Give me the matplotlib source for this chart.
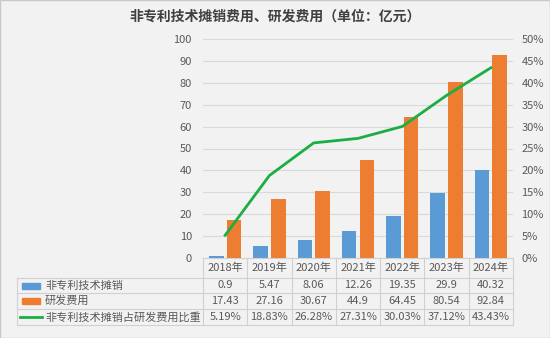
import matplotlib.pyplot as plt
from matplotlib.patches import Rectangle
from matplotlib.lines import Line2D
import matplotlib.transforms as mtransforms

plt.rcParams['font.family'] = ['Noto Sans CJK SC', 'DejaVu Sans']

# 数据
years = ['2018年', '2019年', '2020年', '2021年', '2022年', '2023年', '2024年']
amort = [0.9, 5.47, 8.06, 12.26, 19.35, 29.9, 40.32]
rd = [17.43, 27.16, 30.67, 44.9, 64.45, 80.54, 92.84]
ratio = [5.19, 18.83, 26.28, 27.31, 30.03, 37.12, 43.43]
amort_txt = ['0.9', '5.47', '8.06', '12.26', '19.35', '29.9', '40.32']
rd_txt = ['17.43', '27.16', '30.67', '44.9', '64.45', '80.54', '92.84']
ratio_txt = ['5.19%', '18.83%', '26.28%', '27.31%', '30.03%', '37.12%', '43.43%']
series_names = ['非专利技术摊销', '研发费用', '非专利技术摊销占研发费用比重']

blue = '#5b9bd5'
orange = '#ed7d31'
green = '#1aae43'
bg = '#f2f2f2'
txt = '#595959'
gridc = '#d9d9d9'
W, H = 550, 338

fig = plt.figure(figsize=(5.5, 3.38), dpi=100, facecolor=bg)
ax = fig.add_axes([203 / W, 1 - 258 / H, 310 / W, 219 / H])
ax.set_facecolor(bg)

x = list(range(len(years)))
bw = 0.33
ax.bar([i - bw / 2 - 0.035 for i in x], amort, width=bw, color=blue, zorder=3)
ax.bar([i + bw / 2 + 0.035 for i in x], rd, width=bw, color=orange, zorder=3)

ax.set_xlim(-0.5, len(years) - 0.5)
ax.set_ylim(0, 100)
ax.set_yticks(range(0, 101, 10))
ax.set_xticks([])
ax.tick_params(axis='y', length=0, labelsize=8, labelcolor=txt, pad=8)
ax.grid(axis='y', color=gridc, linewidth=0.8, zorder=0)
for s in ax.spines.values():
    s.set_visible(False)

ax2 = ax.twinx()
ax2.plot(x, ratio, color=green, linewidth=2, zorder=4)
ax2.set_ylim(0, 50)
ax2.set_yticks(range(0, 51, 5))
ax2.set_yticklabels([f'{v}%' for v in range(0, 51, 5)])
ax2.tick_params(axis='y', length=0, labelsize=8, labelcolor=txt, pad=6)
for s in ax2.spines.values():
    s.set_visible(False)

fig.text(275 / W, 1 - 17 / H, '非专利技术摊销费用、研发费用（单位：亿元）',
         ha='center', va='center', fontsize=10, fontweight='bold', color='#404040')

# 数据表
tx = mtransforms.blended_transform_factory(ax.transData, fig.transFigure)
ff = fig.transFigure
linec = '#d0d0d0'
rows_y = [258, 278, 293, 309, 325]


def fy(py):
    return 1 - py / H


left_px = 17
# 横线
fig.add_artist(Line2D([-0.5, len(years) - 0.5], [fy(258)] * 2, transform=tx, color=linec, lw=0.8))
for py in rows_y[1:]:
    fig.add_artist(Line2D([left_px / W, 513 / W], [fy(py)] * 2, transform=ff, color=linec, lw=0.8))
# 竖线
for i in range(len(years) + 1):
    fig.add_artist(Line2D([i - 0.5] * 2, [fy(258), fy(325)], transform=tx, color=linec, lw=0.8))
fig.add_artist(Line2D([left_px / W] * 2, [fy(278), fy(325)], transform=ff, color=linec, lw=0.8))

# 表头与数值
for i, yr in enumerate(years):
    fig.text(i, fy(268), yr, transform=tx, ha='center', va='center', fontsize=8, color=txt)
    for r, vals in enumerate([amort_txt, rd_txt, ratio_txt]):
        yc = (rows_y[r + 1] + rows_y[r + 2]) / 2
        fig.text(i, fy(yc), vals[i], transform=tx, ha='center', va='center', fontsize=8, color=txt)

# 图例列
for r, name in enumerate(series_names):
    yc = (rows_y[r + 1] + rows_y[r + 2]) / 2
    if r < 2:
        fig.add_artist(Rectangle((22 / W, fy(yc + 3)), 18 / W, 6 / H, transform=ff,
                                 color=[blue, orange][r]))
        tx0 = 45
    else:
        fig.add_artist(Line2D([20 / W, 42 / W], [fy(yc)] * 2, transform=ff, color=green, lw=2))
        tx0 = 45
    fig.text(tx0 / W, fy(yc), name, ha='left', va='center', fontsize=8, color=txt)

fig.add_artist(Rectangle((0, 0), 1, 1, transform=ff, fill=False, edgecolor='#c8c8c8', lw=1))

fig.savefig('out.png', dpi=100, facecolor=bg)
